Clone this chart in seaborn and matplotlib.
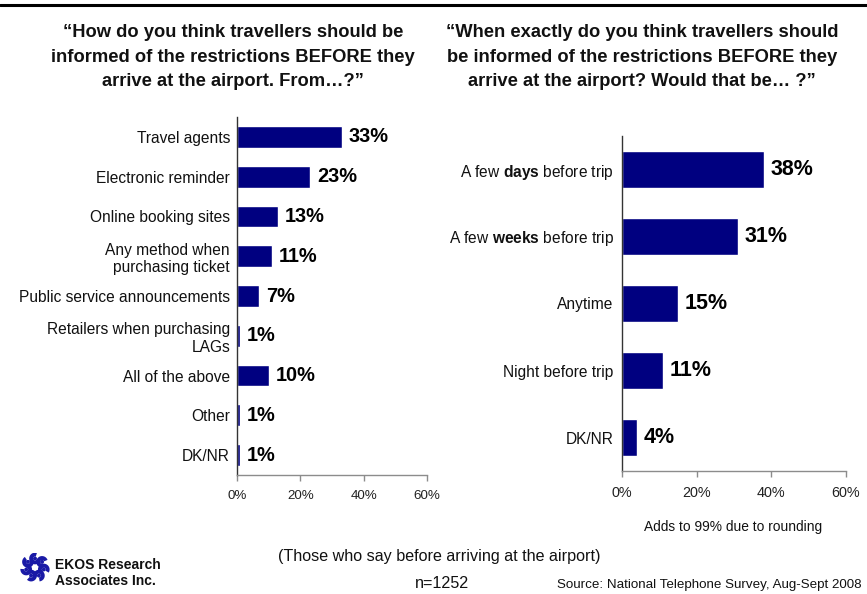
import matplotlib
matplotlib.use("Agg")
import matplotlib.pyplot as plt
from matplotlib import font_manager
from matplotlib.lines import Line2D
from matplotlib.patches import Arc, Circle
import numpy as np
import pandas as pd
import seaborn as sns

# Survey results (percent of respondents)
channels = [
    "Travel agents",
    "Electronic reminder",
    "Online booking sites",
    "Any method when\npurchasing ticket",
    "Public service announcements",
    "Retailers when purchasing\nLAGs",
    "All of the above",
    "Other",
    "DK/NR",
]
channel_pct = [33, 23, 13, 11, 7, 1, 10, 1, 1]

timings = [
    "A few $\\mathbf{days}$ before trip",
    "A few $\\mathbf{weeks}$ before trip",
    "Anytime",
    "Night before trip",
    "DK/NR",
]
timing_pct = [38, 31, 15, 11, 4]

pct_ticks = [0, 20, 40, 60]
pct_tick_labels = ["0%", "20%", "40%", "60%"]

left_title = [
    "\u201cHow do you think travellers should be",
    "informed of the restrictions BEFORE they",
    "arrive at the airport. From\u2026?\u201d",
]
right_title = [
    "\u201cWhen exactly do you think travellers should",
    "be informed of the restrictions BEFORE they",
    "arrive at the airport? Would that be\u2026 ?\u201d",
]

NAVY = "#000080"
INK = "#111111"

sns.set_style("white")
plt.rcParams["font.family"] = ["Liberation Sans", "DejaVu Sans"]
plt.rcParams["mathtext.fontset"] = "custom"

# Condensed face for the tall, narrow lettering (falls back to the regular face)
_installed = {f.name for f in font_manager.fontManager.ttflist}
HAS_NARROW = "Liberation Sans Narrow" in _installed
if HAS_NARROW:
    NARROW = ["Liberation Sans Narrow", "Liberation Sans", "DejaVu Sans"]
    plt.rcParams["mathtext.rm"] = "Liberation Sans Narrow"
    plt.rcParams["mathtext.it"] = "Liberation Sans Narrow:italic"
    plt.rcParams["mathtext.bf"] = "Liberation Sans Narrow:bold"
else:
    NARROW = ["Liberation Sans", "DejaVu Sans"]
    plt.rcParams["mathtext.rm"] = "Liberation Sans"
    plt.rcParams["mathtext.it"] = "Liberation Sans:italic"
    plt.rcParams["mathtext.bf"] = "Liberation Sans:bold"


def nsize(size):
    """Point size for condensed text that keeps the same line width."""
    return size / 0.86 if HAS_NARROW else size


W, H = 867, 594
fig = plt.figure(figsize=(W / 100, H / 100), dpi=100)


def box(x0, y0, x1, y1):
    return [x0 / W, 1 - y1 / H, (x1 - x0) / W, (y1 - y0) / H]


def draw_panel(ax, cats, vals, val_size, xlab_pad, ylab_pad):
    df = pd.DataFrame({"category": cats, "pct": vals})
    sns.barplot(data=df, x="pct", y="category", orient="h", color=NAVY,
                saturation=1, width=0.55, ax=ax)
    ax.bar_label(ax.containers[0], labels=[f"{v}%" for v in vals], padding=5,
                 fontsize=val_size, fontweight="bold", color="black",
                 family=["Liberation Sans", "DejaVu Sans"])
    ax.set_xlim(0, 60)
    ax.set_xticks(pct_ticks)
    ax.set_xticklabels(pct_tick_labels)
    ax.set_xlabel("")
    ax.set_ylabel("")
    sns.despine(ax=ax)
    ax.spines["left"].set_color("#333333")
    ax.spines["bottom"].set_color("#8c8c8c")
    ax.spines["left"].set_linewidth(1.0)
    ax.spines["bottom"].set_linewidth(1.0)
    ax.tick_params(axis="x", bottom=True, length=4, width=1, color="#8c8c8c",
                   direction="out", pad=xlab_pad, labelcolor="#222222")
    ax.tick_params(axis="y", left=False, length=0, pad=ylab_pad,
                   labelcolor=INK)


# Left panel: how travellers should be told
ax1 = fig.add_axes(box(237, 117, 427, 475))
draw_panel(ax1, channels, channel_pct, 14.4, 7, 5)
for lab in ax1.get_yticklabels():
    lab.set_fontsize(11.2)
for lab in ax1.get_xticklabels():
    lab.set_fontsize(9.6)

# Right panel: when travellers should be told
ax2 = fig.add_axes(box(622, 136, 846, 471))
draw_panel(ax2, timings, timing_pct, 15.5, 7, 6)
for lab in ax2.get_yticklabels():
    lab.set_fontsize(nsize(11.2))
    lab.set_family(NARROW)
for lab in ax2.get_xticklabels():
    lab.set_fontsize(nsize(10.4))
    lab.set_family(NARROW)

# Titles
for i, line in enumerate(left_title):
    fig.text(233 / W, 1 - (37 + 24.5 * i) / H, line, ha="center",
             va="baseline", fontsize=nsize(13.2), fontweight="bold",
             color=INK, family=NARROW)
for i, line in enumerate(right_title):
    fig.text(642 / W, 1 - (37 + 24.5 * i) / H, line, ha="center",
             va="baseline", fontsize=nsize(13.2), fontweight="bold",
             color=INK, family=NARROW)

# Rule across the top
fig.add_artist(Line2D([0, 1], [1 - 4.5 / H, 1 - 4.5 / H], color="black",
                      lw=2.2))

# Footer notes
fig.text(733 / W, 1 - 527 / H, "Adds to 99% due to rounding", ha="center",
         va="center", fontsize=nsize(9.9), color=INK, family=NARROW)
fig.text(439 / W, 1 - 556 / H, "(Those who say before arriving at the airport)",
         ha="center", va="center", fontsize=nsize(11.6), color=INK,
         family=NARROW)
fig.text(442 / W, 1 - 583 / H, "n=1252", ha="center", va="center",
         fontsize=nsize(11.6), color=INK, family=NARROW)
fig.text(862 / W, 1 - 585 / H, "Source: National Telephone Survey, Aug-Sept 2008",
         ha="right", va="center", fontsize=nsize(9.6), color=INK,
         family=NARROW)
fig.text(55 / W, 1 - 565 / H, "EKOS Research", ha="left", va="center",
         fontsize=10, fontweight="bold", color=INK)
fig.text(55 / W, 1 - 581 / H, "Associates Inc.", ha="left", va="center",
         fontsize=10, fontweight="bold", color=INK)

# Logo: ring of blue swirls
lax = fig.add_axes(box(20, 551, 50, 584))
lax.set_xlim(-1.2, 1.2)
lax.set_ylim(-1.2, 1.2)
lax.set_aspect("equal")
lax.axis("off")
logo_blue = "#1a1aa6"
for k in range(7):
    ang = np.deg2rad(90 + k * 360 / 7)
    cx, cy = 0.72 * np.cos(ang), 0.72 * np.sin(ang)
    lax.add_patch(Arc((cx, cy), 0.62, 0.62, angle=np.rad2deg(ang) - 40,
                      theta1=20, theta2=300, color=logo_blue, lw=2.8))
    lax.add_patch(Circle((cx, cy), 0.1, color=logo_blue))

fig.savefig("out.png", dpi=100)
